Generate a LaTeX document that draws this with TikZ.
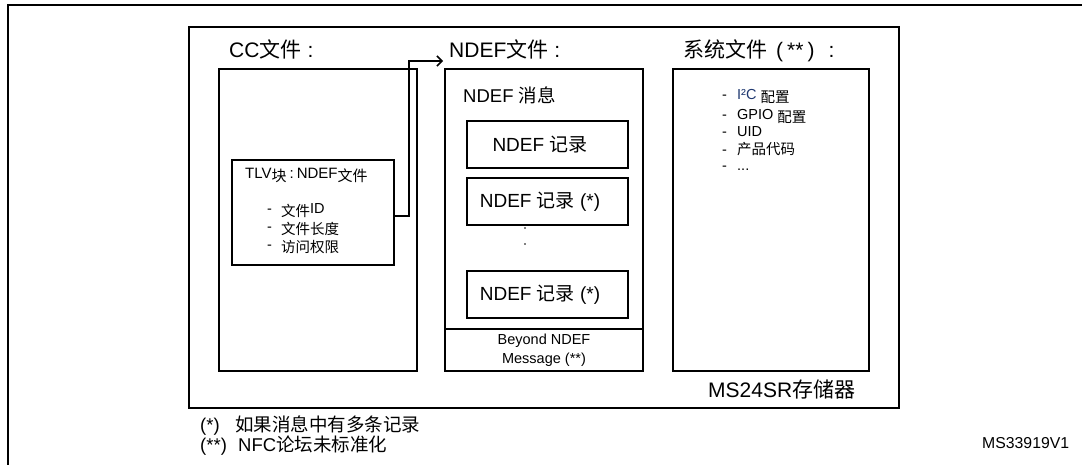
\documentclass[tikz,border=0pt]{standalone}
\usepackage{xcolor}
\usepackage{fontspec}
\setmainfont{Liberation Sans}
\newfontfamily\cjk{Noto Sans CJK SC}
\newcommand{\zh}[1]{{\cjk #1}}
\newcommand{\zhlow}[1]{\raisebox{-2.5pt}{\cjk #1}}
\definecolor{ICblue}{RGB}{31,56,112}
\usetikzlibrary{arrows.meta,positioning}

\begin{document}
\begin{tikzpicture}[x=1pt,y=-1pt,
  box/.style={draw,line width=2pt,inner sep=0pt},
  headtxt/.style={anchor=base west,inner sep=0pt,font=\fontsize{21}{25}\selectfont},
  rectxt/.style={font=\fontsize{19}{23}\selectfont},
  smalltxt/.style={anchor=base west,inner sep=0pt,font=\fontsize{14.5}{17}\selectfont},
  notetxt/.style={anchor=base west,inner sep=0pt,font=\fontsize{18.5}{22}\selectfont},
  flow/.style={line width=1.5pt,-{Straight Barb[length=5pt,width=10pt,line width=1.5pt]}}]
\useasboundingbox (0,0) rectangle (1082,465);
% page frame
\draw[line width=2.2pt] (1082,5) -| (8,465);
% memory
\node[box,minimum width=710pt,minimum height=381pt] (mem) at (544,217.5) {};
\node[headtxt] (memlabel) at (708,397) {MS24SR\zh{存储器}};
% CC file
\node[headtxt] (cchead) at (229,58) {CC\zh{文件}\hspace{6pt}:};
\node[box,minimum width=198pt,minimum height=302pt] (cc) at (318,220) {};
\node[box,line width=1.7pt,minimum width=162pt,minimum height=105pt] (tlv) at (313,212.5) {};
\node[smalltxt,font=\fontsize{15}{17}\selectfont] (tlvhead) at (245,179) {TLV\zhlow{块}\hspace{3pt}:\hspace{3pt}NDEF\zhlow{文件}};
\foreach \y/\txt [count=\i] in {214/{\zhlow{文件}ID},232/{\zhlow{文件长度}},250/{\zhlow{访问权限}}}
  \node[smalltxt] (tlvitem\i) at (267,\y) {\makebox[14pt][l]{-}\txt};
% NDEF file
\node[headtxt] (ndefhead) at (449,58) {NDEF\zh{文件}\hspace{6pt}:};
\node[box,line width=1.5pt,minimum width=198pt,minimum height=302pt] (ndef) at (544,220) {};
\node[headtxt,font=\fontsize{18.5}{22}\selectfont] (msghead) at (463,103) {NDEF \zh{消息}};
\node[box,rectxt,minimum width=161pt,minimum height=47pt] (rec1) at (547.5,144.5) {NDEF \zh{记录}\kern15pt};
\node[box,rectxt,minimum width=161pt,minimum height=47pt,below=8pt of rec1] (rec2) {NDEF \zh{记录} (*)\kern15pt};
\node[box,rectxt,minimum width=161pt,minimum height=47pt,below=44pt of rec2] (rec3) {NDEF \zh{记录} (*)\kern15pt};
\foreach \y in {228,244}
  \fill (525,\y) circle (0.8pt);
\node[draw,line width=1.2pt,minimum width=198pt,minimum height=42pt,align=center,
  font=\fontsize{14.5}{19}\selectfont] (beyond) at (544,350) {Beyond NDEF\\Message (**)};
\coordinate (arrtip) at (443,61);
\draw[flow] ([yshift=-3.5pt]tlv.east) -- ++(14,0) |- (arrtip);
% system file
\node[headtxt] (syshead) at (683,58) {\zh{系统文件}\hspace{9pt}(\hspace{4pt}**\hspace{4pt})\hspace{14pt}:};
\node[box,minimum width=196pt,minimum height=302pt] (sys) at (771,220) {};
\foreach \y/\txt [count=\i] in {100/{\textcolor{ICblue}{I²C} \zhlow{配置}},120/{GPIO \zhlow{配置}},137/{UID},155/{\zh{产品代码}},171/{...}}
  \node[smalltxt] (sysitem\i) at (722,\y) {\makebox[15pt][l]{-}\txt};
% notes
\node[notetxt] (noteone) at (200,431) {\makebox[35pt][l]{(*)}\zh{如果消息中有多条记录}};
\node[notetxt] (notetwo) at (200,451) {\makebox[38pt][l]{(**)}NFC\zh{论坛未标准化}};
\node[notetxt,font=\fontsize{15.8}{18}\selectfont] (figid) at (982,448) {MS33919V1};
\end{tikzpicture}
\end{document}
